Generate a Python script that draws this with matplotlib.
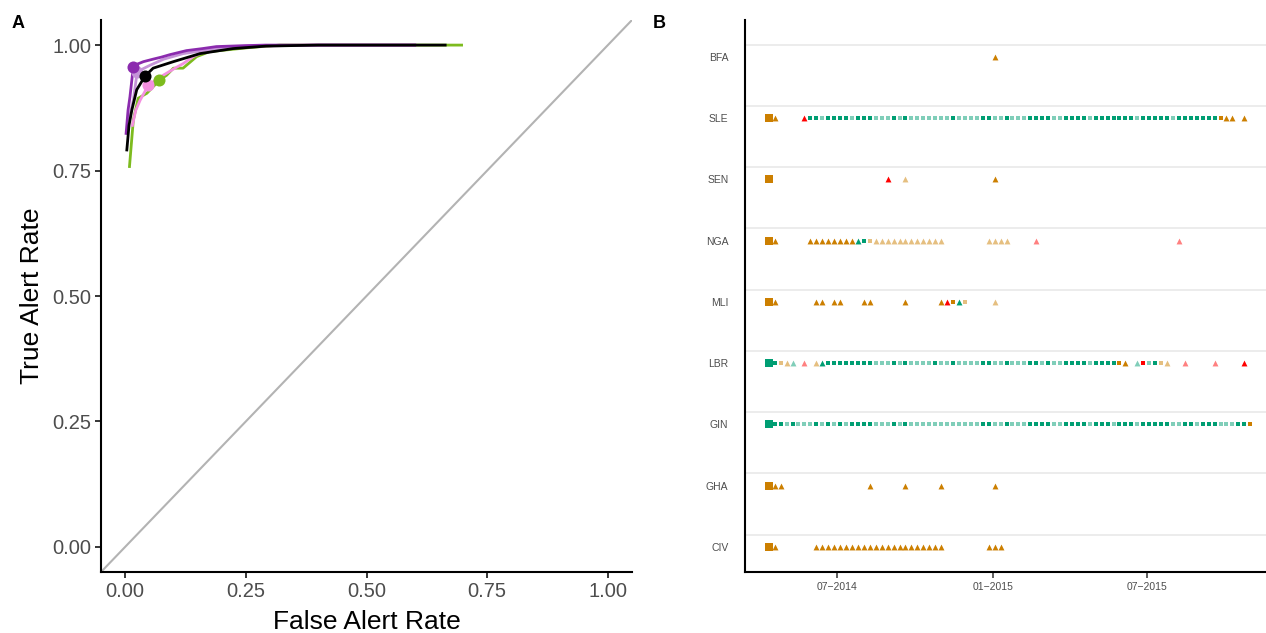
import numpy as np
import pandas as pd
import matplotlib
matplotlib.use("Agg")
import matplotlib.pyplot as plt

plt.rcParams['font.family'] = ['Liberation Sans', 'DejaVu Sans']

# ---------------------------- panel A: ROC curves
fpr_dpurple = [0.002, 0.006, 0.010, 0.017, 0.025, 0.038, 0.058, 0.075, 0.093, 0.127, 0.16, 0.189, 0.25, 0.29, 0.45, 0.6]
tpr_dpurple = [0.824, 0.870, 0.897, 0.957, 0.962, 0.967, 0.972, 0.976, 0.981, 0.989, 0.993, 0.997, 0.999, 1.0, 1.0, 1.0]
fpr_lpurple = [0.008, 0.012, 0.017, 0.025, 0.052, 0.08, 0.12, 0.19, 0.26, 0.4, 0.6]
tpr_lpurple = [0.850, 0.870, 0.890, 0.947, 0.960, 0.972, 0.983, 0.993, 0.998, 1.0, 1.0]
fpr_pink = [0.015, 0.022, 0.031, 0.048, 0.07, 0.086, 0.105, 0.12, 0.141, 0.182, 0.25, 0.4, 0.6]
tpr_pink = [0.840, 0.870, 0.890, 0.920, 0.935, 0.944, 0.955, 0.963, 0.977, 0.995, 0.998, 1.0, 1.0]
fpr_green = [0.009, 0.017, 0.027, 0.045, 0.058, 0.071, 0.086, 0.1, 0.12, 0.148, 0.175, 0.257, 0.32, 0.697]
tpr_green = [0.758, 0.851, 0.894, 0.904, 0.917, 0.930, 0.940, 0.954, 0.954, 0.977, 0.987, 0.995, 1.0, 1.0]
fpr_black = [0.0035, 0.008, 0.014, 0.024, 0.041, 0.058, 0.1, 0.155, 0.223, 0.292, 0.4, 0.663]
tpr_black = [0.791, 0.840, 0.871, 0.911, 0.938, 0.954, 0.967, 0.983, 0.993, 0.998, 1.0, 1.0]

# optimal operating points
opt_fpr = {'dpurple': 0.017, 'lpurple': 0.025, 'pink': 0.048, 'green': 0.071, 'black': 0.041}
opt_tpr = {'dpurple': 0.957, 'lpurple': 0.947, 'pink': 0.920, 'green': 0.930, 'black': 0.938}

roc_colors = {'dpurple': '#8B2BAE', 'lpurple': '#C594D8', 'pink': '#F48FDF',
              'green': '#7DBB1E', 'black': '#000000'}

# ---------------------------- panel B: weekly alerts per country
countries = ['CIV', 'GHA', 'GIN', 'LBR', 'MLI', 'NGA', 'SEN', 'SLE', 'BFA']
week0 = '2014-04-12'
n_weeks = 82
# one character per week:  S/s green square, O/o orange square, Q red square,
# T/t orange triangle, R/r red triangle, G/g green triangle, B/b first (big) square
# lower case = faded version
rows = {
    'BFA': '.' * 38 + 'T',
    'SLE': 'BT....R'
           + 'SSsSSSSsSSS' + 'sss' + 'S' + 's' + 'S' + 'sssssss' + 'S' + 'ssss' + 'SS' + 'ss' + 'S'
           + 'sss' + 'SSSS' + 'ss' + 'SSSS' + 's' + 'SSSSSSS' + 's' + 'SSSSS' + 's' + 'SSSSSSS'
           + 'OTT.T',
    'SEN': 'B' + '.' * 19 + 'R..t' + '.' * 14 + 'T',
    'NGA': 'BT.....' + 'TTTTTTTT' + 'GSo' + 'tttttttttttt' + '.......' + 'tttt' + '....' + 'r'
           + '.' * 23 + 'r',
    'MLI': 'BT......TT.TT...TT.....T.....TROGo....t',
    'LBR': 'bSotg.r.tG'
           + 'SSSSSSSS' + 'sss' + 'S' + 's' + 'S' + 'ssss' + 'S' + 'ss' + 'S' + 'ssss' + 'SS' + 'ss' + 'S'
           + 'sss' + 'SS' + 's' + 'S' + 'ss' + 'SSSS' + 's' + 'SSSS'
           + 'OT.gQsSot..r....r....R',
    'GIN': 'bSSsSsssSsSsSsSSSSsssSsS' + 'ssssssssssss' + 'SS' + 'ss' + 'S' + 'sss' + 'SSSS' + 'ss'
           + 'SSSS' + 's' + 'SSS' + 's' + 'SSS' + 's' + 'SSSSS' + 'ss' + 'SS' + 's' + 'SSS' + 'sss' + 'SS'
           + 'O',
    'GHA': 'BTT' + '.' * 14 + 'T.....T.....T' + '.' * 8 + 'T',
    'CIV': 'BT......' + 'TTTTTTTTTTTTTTTTTTTTTT' + '.......' + 'TTT',
}

green, green_l = '#009E73', '#80CEB9'
orange, orange_l = '#CC7F00', '#E5BF80'
red, pink = '#FF0000', '#FF8080'
sq, tri, big = 12.5, 18, 26
styles = {
    'S': ('s', green, sq), 's': ('s', green_l, sq),
    'O': ('s', orange, sq), 'o': ('s', orange_l, sq), 'Q': ('s', red, sq),
    'T': ('^', orange, tri), 't': ('^', orange_l, tri),
    'R': ('^', red, tri), 'r': ('^', pink, tri),
    'G': ('^', green, tri), 'g': ('^', green_l, tri),
    'B': ('s', orange, big), 'b': ('s', green, big),
}

weeks = pd.date_range(week0, periods=n_weeks, freq='7D')

fig = plt.figure(figsize=(12.66, 6.33), dpi=100)
W, H = 1266, 633

# ---------------------------- panel A
axA = fig.add_axes([101 / W, 1 - 572 / H, (632 - 101) / W, (572 - 20) / H])
axA.plot([-1, 2], [-1, 2], color='#B3B3B3', lw=1.5, zorder=1)
curves = [('green', fpr_green, tpr_green), ('pink', fpr_pink, tpr_pink),
          ('lpurple', fpr_lpurple, tpr_lpurple), ('dpurple', fpr_dpurple, tpr_dpurple)]
for name, f, t in curves:
    axA.plot(f, t, color=roc_colors[name], lw=2, zorder=2)
for name in ['pink', 'lpurple', 'green', 'dpurple']:
    axA.scatter(opt_fpr[name], opt_tpr[name], s=75, color=roc_colors[name], zorder=3, lw=0)
axA.plot(fpr_black, tpr_black, color='black', lw=2, zorder=4)
axA.scatter(opt_fpr['black'], opt_tpr['black'], s=75, color='black', zorder=5, lw=0)

axA.set_xlim(-0.05, 1.05)
axA.set_ylim(-0.05, 1.05)
ticks = [0, 0.25, 0.5, 0.75, 1.0]
labels = ['0.00', '0.25', '0.50', '0.75', '1.00']
axA.set_xticks(ticks)
axA.set_yticks(ticks)
axA.set_xticklabels(labels)
axA.set_yticklabels(labels)
axA.tick_params(labelsize=14.5, colors='#4D4D4D', length=4, width=1.1, pad=3)
axA.tick_params(color='black')
axA.set_xlabel('False Alert Rate', fontsize=19, labelpad=7)
axA.set_ylabel('True Alert Rate', fontsize=19, labelpad=6)
for side in ['top', 'right']:
    axA.spines[side].set_visible(False)
for side in ['left', 'bottom']:
    axA.spines[side].set_linewidth(1.5)

# ---------------------------- panel B
axB = fig.add_axes([745 / W, 1 - 572 / H, (1274 - 745) / W, (572 - 20) / H])
for i, c in enumerate(countries):
    axB.axhline(i + 0.2, color='#EBEBEB', lw=1.3, zorder=0)
    code = rows[c]
    for k, ch in enumerate(code):
        if ch == '.':
            continue
        m, col, size = styles[ch]
        axB.scatter(weeks[k], i, marker=m, s=size, color=col, lw=0, zorder=2)

axB.set_xlim(weeks[0] - pd.Timedelta(days=28), weeks[-1] + pd.Timedelta(days=28))
axB.set_ylim(-0.41, 8.6)
axB.set_yticks(range(len(countries)))
axB.set_yticklabels(countries)
xt = pd.to_datetime(['2014-07-01', '2015-01-01', '2015-07-01'])
axB.set_xticks(xt)
axB.set_xticklabels(['07\u22122014', '01\u22122015', '07\u22122015'])
axB.tick_params(axis='x', labelsize=7.5, colors='#4D4D4D', length=4, width=1.1)
axB.tick_params(axis='x', color='#333333')
axB.tick_params(axis='y', labelsize=7.5, colors='#4D4D4D', length=0, pad=12)
for side in ['top', 'right']:
    axB.spines[side].set_visible(False)
for side in ['left', 'bottom']:
    axB.spines[side].set_linewidth(1.5)

fig.text(12 / W, 1 - 24 / H, 'A', fontsize=13, fontweight='bold', va='center')
fig.text(653 / W, 1 - 24 / H, 'B', fontsize=13, fontweight='bold', va='center')

fig.savefig('out.png', dpi=100)
